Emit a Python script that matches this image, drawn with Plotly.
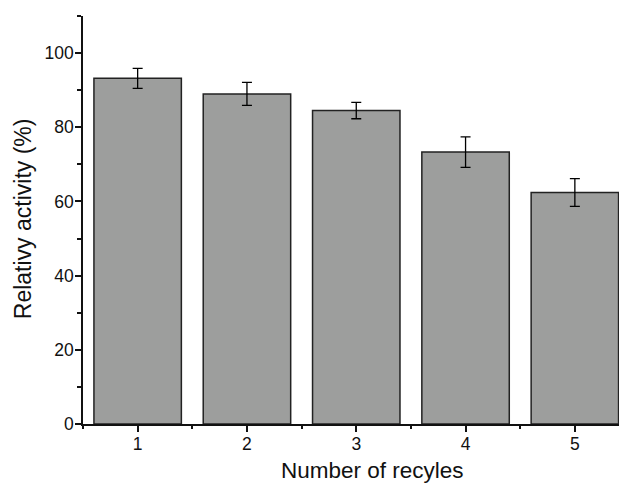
import plotly.graph_objects as go

cycles = [1, 2, 3, 4, 5]
activity = [93.2, 89.0, 84.5, 73.3, 62.4]
errors = [2.7, 3.1, 2.2, 4.1, 3.75]
x_title = "Number of recyles"
y_title = "Relativy activity (%)"

FONT = "Liberation Sans, Arial, sans-serif"

fig = go.Figure()
fig.add_trace(go.Bar(
    x=cycles, y=activity, width=0.8,
    marker=dict(color="#9d9e9d", line=dict(color="#222222", width=1.5)),
    error_y=dict(type="data", array=errors, visible=True, color="#000000", thickness=1.3, width=5),
))

# page has an 8px body margin; compensate so the plot area lands where the reference has it
fig.update_layout(
    width=619, height=476,
    margin=dict(l=75, r=0, t=8, b=60),
    plot_bgcolor="white", paper_bgcolor="white",
    showlegend=False,
    font=dict(family=FONT, size=17, color="#111111"),
    xaxis=dict(
        range=[0.5, 5.477], tickmode="array", tickvals=cycles, ticktext=[str(c) for c in cycles],
        ticks="outside", ticklen=6, tickwidth=1.5, tickcolor="#111",
        showline=True, linecolor="#111", linewidth=1.5, showgrid=False, zeroline=False,
        minor=dict(ticks="outside", tick0=0.5, dtick=1, ticklen=3, tickwidth=1.5, tickcolor="#111"),
        tickfont=dict(size=17.5), ticklabelstandoff=-3, automargin=False,
    ),
    yaxis=dict(
        range=[0, 110], tickmode="array", tickvals=[0, 20, 40, 60, 80, 100],
        ticks="outside", ticklen=6, tickwidth=1.5, tickcolor="#111",
        showline=True, linecolor="#111", linewidth=1.5, showgrid=False, zeroline=False,
        minor=dict(ticks="outside", tickvals=[10, 30, 50, 70, 90, 110], ticklen=4, tickwidth=1.5, tickcolor="#111"),
        tickfont=dict(size=17.5), ticklabelstandoff=-2, automargin=False,
    ),
    annotations=[
        dict(text=x_title, xref="paper", yref="paper", x=0.533, y=0, yshift=-46,
             xanchor="center", yanchor="middle", showarrow=False, font=dict(size=22.5)),
        dict(text=y_title, xref="paper", yref="paper", x=0, xshift=-60, y=0.502,
             xanchor="center", yanchor="middle", textangle=-90, showarrow=False, font=dict(size=23)),
    ],
)

fig.write_html("out.html")
